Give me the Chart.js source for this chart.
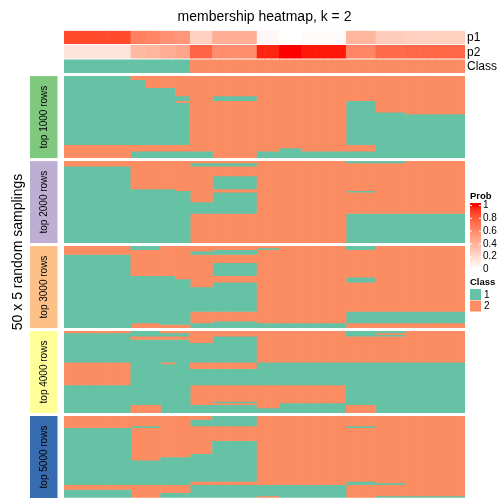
<!DOCTYPE html>
<html><head><meta charset="utf-8">
<script src="https://cdn.jsdelivr.net/npm/chart.js@4"></script>
<style>html,body{margin:0;padding:0;background:#fff}</style>
</head><body>
<canvas id="c" width="504" height="504"></canvas>
<script>
// ---------------- DATA ----------------
const chartTitle = 'membership heatmap, k = 2';
const rowTitle = '50 x 5 random samplings';
const blockNames = ['top 1000 rows','top 2000 rows','top 3000 rows','top 4000 rows','top 5000 rows'];
const blockColors = ['#7FC97F','#BEAED4','#FDC086','#FFFF99','#386CB0'];
const classColors = {1:'#66C2A5', 2:'#FC8D62'};
// samples are grouped into runs of columns sharing the same membership pattern
const groupSizes = [9,2,2,2,2,3,6,3,3,6,4,4,8];
const p1Values = [0.86,0.64,0.62,0.57,0.54,0.24,0.42,0.04,0.0,0.02,0.38,0.27,0.25];
const p2Values = [0.14,0.36,0.38,0.43,0.46,0.76,0.58,0.96,1.0,0.98,0.62,0.73,0.75];
const classOf  = [1,1,1,1,1,2,2,2,2,2,2,2,2];
// per group: runs "class:count" from top to bottom (50 samplings per block)
const top1000 = ["1:42 2:8","2:2 1:40 2:4 1:4","2:7 1:35 2:4 1:4","2:7 1:35 2:4 1:4","2:12 1:3 2:1 1:26 2:4 1:4",
  "2:46 1:4","2:12 1:3 2:35","2:46 1:4","2:44 1:6","2:46 1:4","2:15 1:27 2:4 1:4","2:22 1:28","2:23 1:27"];
const top2000 = ["2:3 1:47","2:17 1:33","2:17 1:33","2:17 1:33","2:18 1:32",
  "2:1 1:2 2:22 1:7 2:18","2:1 1:2 2:6 1:8 2:2 1:13 2:18","2:50","2:50","2:50","1:1 2:17 1:1 2:13 1:18","1:1 2:31 1:18","2:32 1:18"];
const top3000 = ["2:5 1:45","1:2 2:16 1:29 2:3","1:2 2:16 1:29 2:3","2:18 1:30 2:2","2:20 1:28 2:2",
  "2:3 1:2 2:20 1:15 2:7 1:3","2:2 1:3 2:5 1:8 2:4 1:18 2:6 1:4","2:1 1:1 2:45 1:3","2:47 1:3","2:47 1:3","1:2 2:17 1:3 2:18 1:7 2:3","2:40 1:7 2:3","2:40 1:7 2:3"];
const top4000 = ["2:1 1:18 2:14 1:17","1:3 2:2 1:40 2:5","1:3 2:2 1:40 2:5","2:1 1:2 2:2 1:14 2:1 1:30","2:1 1:2 2:2 1:45",
  "2:7 1:12 2:4 1:10 2:12 1:5","2:3 1:16 2:4 1:10 2:10 1:1 2:1 1:5","2:19 1:14 2:14 1:3","2:19 1:14 2:11 1:6","2:19 1:14 2:11 1:6","1:3 2:16 1:26 2:5","1:1 2:1 1:1 2:16 1:31","2:19 1:31"];
const top5000 = ["2:7 1:35 2:3 1:5","2:6 1:1 2:20 1:15 2:8","2:6 1:1 2:20 1:15 2:8","2:25 1:17 2:5 1:3","2:25 1:17 2:5 1:3",
  "2:2 1:4 2:17 1:17 2:2 1:8","1:6 2:9 1:25 2:2 1:8","2:42 1:7 2:1","2:42 1:8","2:42 1:8","2:6 1:1 2:33 1:2 2:8","2:41 1:1 2:7 1:1","2:49 1:1"];
const blocks = [top1000, top2000, top3000, top4000, top5000];
const legendTicks = [0, 0.2, 0.4, 0.6, 0.8, 1];

// ---------------- colour ramp (white -> red in LAB) ----------------
function toLin(c){c/=255;return c<=0.04045?c/12.92:Math.pow((c+0.055)/1.055,2.4);}
function toSrgb(c){c=c<=0.0031308?12.92*c:1.055*Math.pow(c,1/2.4)-0.055;return Math.round(Math.max(0,Math.min(1,c))*255);}
function rgb2lab(r,g,b){r=toLin(r);g=toLin(g);b=toLin(b);
  let X=(0.4124*r+0.3576*g+0.1805*b)/0.95047,Y=0.2126*r+0.7152*g+0.0722*b,Z=(0.0193*r+0.1192*g+0.9505*b)/1.08883;
  const f=t=>t>0.008856?Math.cbrt(t):7.787*t+16/116;
  const fx=f(X),fy=f(Y),fz=f(Z);return [116*fy-16,500*(fx-fy),200*(fy-fz)];}
function lab2rgb(L,a,b){const fy=(L+16)/116,fx=fy+a/500,fz=fy-b/200;
  const fi=t=>t*t*t>0.008856?t*t*t:(t-16/116)/7.787;
  const X=fi(fx)*0.95047,Y=fi(fy),Z=fi(fz)*1.08883;
  return [toSrgb(3.2406*X-1.5372*Y-0.4986*Z),toSrgb(-0.9689*X+1.8758*Y+0.0415*Z),toSrgb(0.0557*X-0.2040*Y+1.0570*Z)];}
const labW=rgb2lab(255,255,255), labR=rgb2lab(255,0,0);
function probColor(t){const c=lab2rgb(labW[0]+(labR[0]-labW[0])*t,labW[1]+(labR[1]-labW[1])*t,labW[2]+(labR[2]-labW[2])*t);return `rgb(${c[0]},${c[1]},${c[2]})`;}

// ---------------- build columns ----------------
const colGroup=[];groupSizes.forEach((n,g)=>{for(let i=0;i<n;i++)colGroup.push(g);});
const labels=colGroup.map((g,i)=>'S'+(i+1));
const NROW=50, annH=7.95, annGap=0.98, blockGap=2.2;
const yClass=[-blockGap-annH,-blockGap];
const yP2=[yClass[0]-annGap-annH,yClass[0]-annGap];
const yP1=[yP2[0]-annGap-annH,yP2[0]-annGap];
const yMin=yP1[0], yMax=blocks.length*NROW+(blocks.length-1)*blockGap;
function blockOffset(b){return b*(NROW+blockGap);}

const datasets=[];
function annDs(range,colorFn){return {data:colGroup.map(()=>range.slice()),backgroundColor:colGroup.map(g=>colorFn(g))};}
datasets.push(annDs(yP1,g=>probColor(p1Values[g])));
datasets.push(annDs(yP2,g=>probColor(p2Values[g])));
datasets.push(annDs(yClass,g=>classColors[classOf[g]]));
blocks.forEach((blk,b)=>{
  const parsed=blk.map(s=>s.trim().split(/\s+/).map(t=>{const [c,n]=t.split(':');return [+c,+n];}));
  const maxSeg=Math.max(...parsed.map(p=>p.length));
  const off=blockOffset(b);
  for(let k=0;k<maxSeg;k++){
    const data=[],bg=[];
    colGroup.forEach(g=>{
      const runs=parsed[g];
      if(k<runs.length){let s=0;for(let j=0;j<k;j++)s+=runs[j][1];data.push([off+s,off+s+runs[k][1]]);bg.push(classColors[runs[k][0]]);}
      else{data.push(null);bg.push('rgba(0,0,0,0)');}
    });
    datasets.push({data,backgroundColor:bg});
  }
});
datasets.forEach(d=>{d.borderWidth=0;d.grouped=false;d.barPercentage=1;d.categoryPercentage=1;d.inflateAmount=0.3;});

const FONT='"Liberation Sans", Arial, Helvetica, sans-serif';
const deco={id:'deco',afterDraw(chart){
  const ctx=chart.ctx, ca=chart.chartArea, ys=chart.scales.y;
  ctx.save();ctx.fillStyle='#000';
  // title
  ctx.font='14px '+FONT;ctx.textAlign='center';ctx.textBaseline='middle';
  ctx.fillText(chartTitle,(ca.left+ca.right)/2,17);
  // annotation names
  ctx.font='12px '+FONT;ctx.textAlign='left';
  [['p1',yP1],['p2',yP2],['Class',yClass]].forEach(([t,r])=>{ctx.fillText(t,ca.right+2,(ys.getPixelForValue(r[0])+ys.getPixelForValue(r[1]))/2+0.5);});
  // block labels
  blocks.forEach((blk,b)=>{
    const t=ys.getPixelForValue(blockOffset(b))-0.3,bt=ys.getPixelForValue(blockOffset(b)+NROW)+0.3;
    ctx.fillStyle=blockColors[b];ctx.fillRect(30,t,27.5,bt-t);
    ctx.save();ctx.translate(44,(t+bt)/2);ctx.rotate(-Math.PI/2);
    ctx.fillStyle='#000';ctx.font='10px '+FONT;ctx.textAlign='center';ctx.textBaseline='middle';
    ctx.fillText(blockNames[b],0,0);ctx.restore();
  });
  // row title
  ctx.save();ctx.translate(18,252);ctx.rotate(-Math.PI/2);ctx.font='14px '+FONT;ctx.textAlign='center';ctx.textBaseline='middle';ctx.fillStyle='#000';
  ctx.fillText(rowTitle,0,0);ctx.restore();
  // Prob legend
  const lx=470,lw=11,gTop=205,gBot=269;
  ctx.font='bold 9.5px '+FONT;ctx.textAlign='left';ctx.textBaseline='middle';ctx.fillStyle='#000';
  ctx.fillText('Prob',lx,196);
  const grad=ctx.createLinearGradient(0,gBot,0,gTop);
  for(let i=0;i<=20;i++){grad.addColorStop(i/20,probColor(i/20));}
  ctx.fillStyle=grad;ctx.fillRect(lx,gTop-2,lw,gBot-gTop+4);
  ctx.strokeStyle='#fff';ctx.lineWidth=1;
  ctx.font='10px '+FONT;ctx.fillStyle='#000';
  legendTicks.forEach(v=>{const y=gBot-(gBot-gTop)*v;
    ctx.beginPath();ctx.moveTo(lx,y+0.5);ctx.lineTo(lx+2,y+0.5);ctx.moveTo(lx+lw-2,y+0.5);ctx.lineTo(lx+lw,y+0.5);ctx.stroke();
    ctx.fillText(String(v),lx+lw+2,y+0.5);});
  // Class legend
  ctx.font='bold 9.5px '+FONT;ctx.fillText('Class',lx,282);
  ctx.fillStyle=classColors[1];ctx.fillRect(lx,289,lw,11);
  ctx.fillStyle=classColors[2];ctx.fillRect(lx,300.5,lw,11);
  ctx.fillStyle='#000';ctx.font='10px '+FONT;
  ctx.fillText('1',lx+lw+3,295);ctx.fillText('2',lx+lw+3,306.5);
  ctx.restore();
}};

new Chart(document.getElementById('c'),{
  type:'bar',
  data:{labels,datasets},
  options:{
    responsive:false,animation:false,devicePixelRatio:1,
    layout:{padding:{left:64,right:39,top:30.8,bottom:6.3}},
    plugins:{legend:{display:false},title:{display:false},tooltip:{enabled:false}},
    scales:{
      x:{type:'category',display:false,offset:true},
      y:{type:'linear',display:false,reverse:true,min:yMin,max:yMax}
    }
  },
  plugins:[deco]
});
</script>
</body></html>
